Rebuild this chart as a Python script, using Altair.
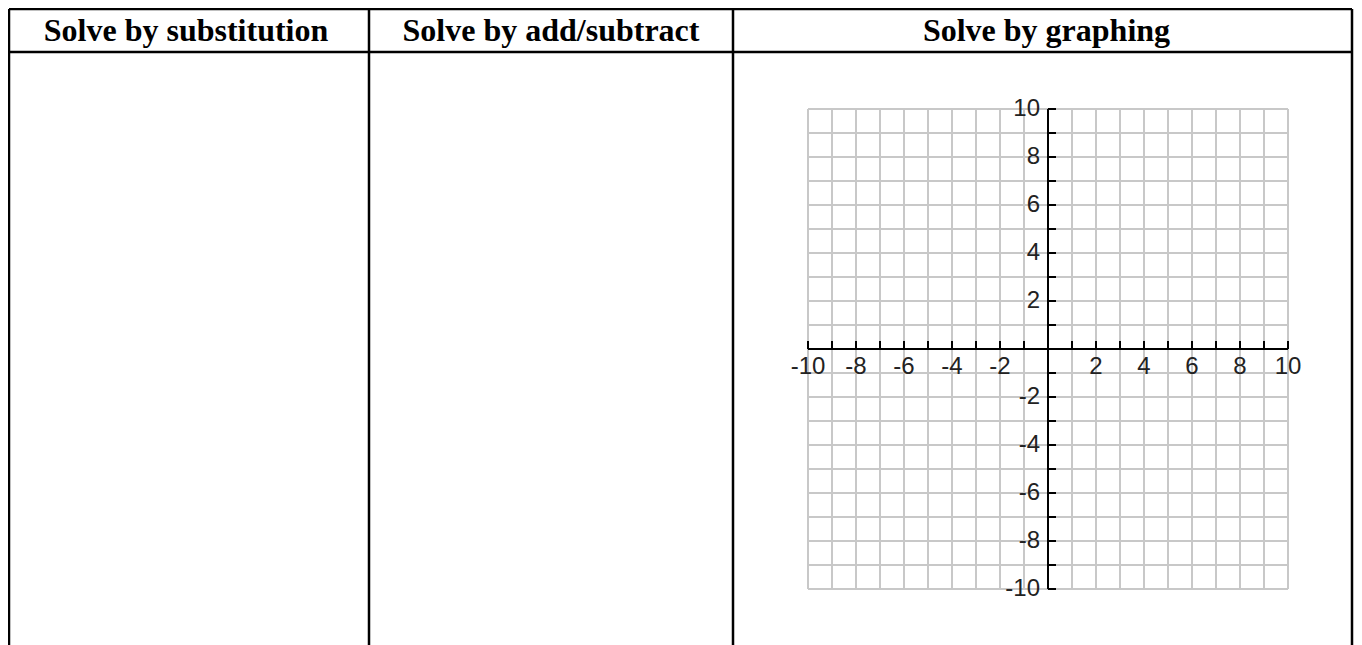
import altair as alt
import pandas as pd

# ---- data ----
grid_values = list(range(-10, 11))          # grid lines / ticks every unit
label_values = [-10, -8, -6, -4, -2, 2, 4, 6, 8, 10]
label_texts = [str(v) for v in label_values]
headers = ["Solve by substitution", "Solve by add/subtract", "Solve by graphing"]
axis_min, axis_max = -10, 10

grid_df = pd.DataFrame({"v": grid_values})
label_df = pd.DataFrame({"v": label_values, "t": label_texts})
one = pd.DataFrame({"a": [0]})

W = H = 480
xs = alt.Scale(domain=[axis_min, axis_max], nice=False, zero=False)
ys = alt.Scale(domain=[axis_min, axis_max], nice=False, zero=False)

GRID = "#c8c8c8"
INK = "#000000"
LABEL_FONT = "Liberation Sans Narrow, Liberation Sans, Arial"
LABEL_SIZE = 24

# grid
vgrid = alt.Chart(grid_df).mark_rule(color=GRID, strokeWidth=2).encode(
    x=alt.X("v:Q", scale=xs, axis=None),
    y=alt.Y(datum=axis_min, scale=ys, axis=None),
    y2=alt.Y2(datum=axis_max),
)
hgrid = alt.Chart(grid_df).mark_rule(color=GRID, strokeWidth=2).encode(
    y=alt.Y("v:Q", scale=ys, axis=None),
    x=alt.X(datum=axis_min, scale=xs, axis=None),
    x2=alt.X2(datum=axis_max),
)

# axis lines
yaxis_line = alt.Chart(one).mark_rule(color=INK, strokeWidth=2).encode(
    x=alt.X(datum=0, scale=xs, axis=None),
    y=alt.Y(datum=axis_min, scale=ys, axis=None),
    y2=alt.Y2(datum=axis_max),
)
xaxis_line = alt.Chart(one).mark_rule(color=INK, strokeWidth=2).encode(
    y=alt.Y(datum=0, scale=ys, axis=None),
    x=alt.X(datum=axis_min, scale=xs, axis=None),
    x2=alt.X2(datum=axis_max),
)

# ticks
yticks = alt.Chart(grid_df).mark_rule(color=INK, strokeWidth=2, x2Offset=8).encode(
    y=alt.Y("v:Q", scale=ys, axis=None),
    x=alt.X(datum=0, scale=xs, axis=None),
    x2=alt.X2(datum=0),
)
xticks = alt.Chart(grid_df).mark_rule(color=INK, strokeWidth=2, y2Offset=-8).encode(
    x=alt.X("v:Q", scale=xs, axis=None),
    y=alt.Y(datum=0, scale=ys, axis=None),
    y2=alt.Y2(datum=0),
)

# labels
xlabels = alt.Chart(label_df).mark_text(
    font=LABEL_FONT, fontSize=LABEL_SIZE, color="#222222", align="center",
    baseline="middle", dy=18,
).encode(
    x=alt.X("v:Q", scale=xs, axis=None),
    y=alt.Y(datum=0, scale=ys, axis=None),
    text="t:N",
)
ylabels = alt.Chart(label_df).mark_text(
    font=LABEL_FONT, fontSize=LABEL_SIZE, color="#222222", align="right",
    baseline="middle", dx=-8,
).encode(
    y=alt.Y("v:Q", scale=ys, axis=None),
    x=alt.X(datum=0, scale=xs, axis=None),
    text="t:N",
)

# ---- table frame (layout, in pixels relative to the plot area) ----
TOP, HEAD, BOTTOM = -100, -57, 540
LEFT, C1, C2, RIGHT = -799, -439, -75, 544
LW = 2.5

def hline(y):
    return alt.Chart(one).mark_rule(color=INK, strokeWidth=LW).encode(
        x=alt.value(LEFT), x2=alt.value(RIGHT), y=alt.value(y)
    )

def vline(x):
    return alt.Chart(one).mark_rule(color=INK, strokeWidth=LW).encode(
        x=alt.value(x), y=alt.value(TOP), y2=alt.value(BOTTOM)
    )

frame = [hline(TOP), hline(HEAD)] + [vline(x) for x in (LEFT, C1, C2, RIGHT)]

HEAD_FONT = "Liberation Serif, Times New Roman, serif"
centers = [(LEFT + C1) / 2 - 3, (C1 + C2) / 2, (C2 + 552) / 2]
head_texts = [
    alt.Chart(one).mark_text(
        font=HEAD_FONT, fontWeight="bold", fontSize=32, color=INK,
        align="center", baseline="alphabetic",
    ).encode(x=alt.value(cx), y=alt.value(-68), text=alt.value(h))
    for cx, h in zip(centers, headers)
]

chart = alt.layer(
    vgrid, hgrid, yaxis_line, xaxis_line, yticks, xticks, xlabels, ylabels,
    *frame, *head_texts,
).properties(
    width=W, height=H,
    autosize=alt.AutoSizeParams(type="none"),
    padding={"left": 800, "top": 101, "right": 66, "bottom": 56},
    background="white",
).configure_view(stroke=None)

chart.save("out.html", embed_options={"renderer": "svg", "actions": False})
